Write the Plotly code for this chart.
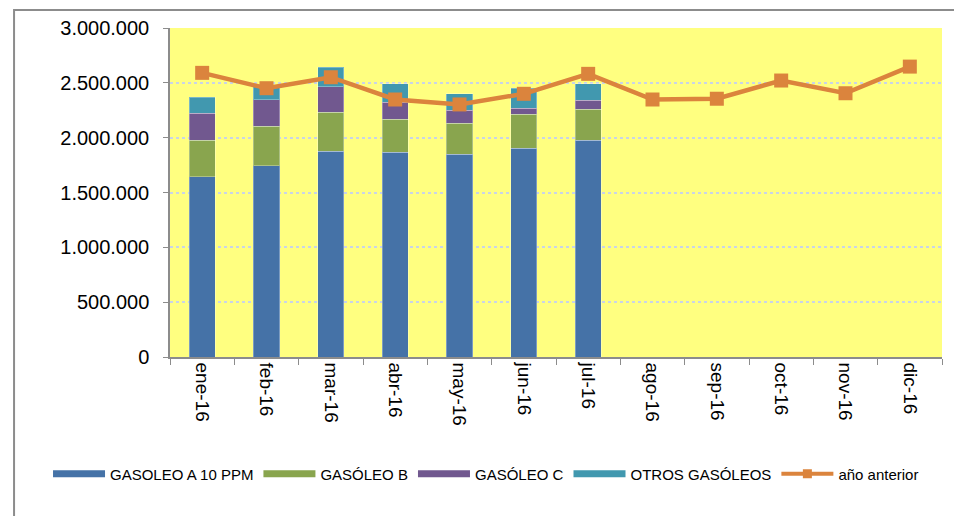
import plotly.graph_objects as go

meses = ["ene-16", "feb-16", "mar-16", "abr-16", "may-16", "jun-16",
         "jul-16", "ago-16", "sep-16", "oct-16", "nov-16", "dic-16"]

gasoleo_a = [1642000, 1742000, 1875000, 1869000, 1851000, 1905000, 1978000]
gasoleo_b = [333000, 361000, 355000, 297000, 282000, 307000, 282000]
gasoleo_c = [249000, 242000, 236000, 158000, 115000, 57000, 82000]
otros = [145000, 130000, 176000, 167000, 152000, 182000, 149000]
anio_anterior = [2591000, 2451000, 2551000, 2348000, 2303000, 2400000,
                 2582000, 2348000, 2355000, 2521000, 2405000, 2648000]

y_ticks = [0, 500000, 1000000, 1500000, 2000000, 2500000, 3000000]
y_tick_text = ["0", "500.000", "1.000.000", "1.500.000", "2.000.000",
               "2.500.000", "3.000.000"]

series = [
    ("GASOLEO A 10 PPM", gasoleo_a, "#4572A7"),
    ("GASÓLEO B", gasoleo_b, "#89A54E"),
    ("GASÓLEO C", gasoleo_c, "#71588F"),
    ("OTROS GASÓLEOS", otros, "#4198AF"),
]
LINE_COLOR = "#DB843D"
FONT = "Liberation Sans, Arial, sans-serif"

fig = go.Figure()

n_bars = len(gasoleo_a)
for name, vals, color in series:
    fig.add_trace(go.Bar(
        x=meses[:n_bars], y=vals, name=name,
        marker=dict(color=color, line=dict(color="rgba(255,255,255,0.3)", width=1)),
        showlegend=False,
    ))

fig.add_trace(go.Scatter(
    x=meses, y=anio_anterior, name="año anterior", mode="lines+markers",
    line=dict(color=LINE_COLOR, width=4.5),
    marker=dict(symbol="square", size=14, color=LINE_COLOR),
    showlegend=False,
))

# legend entries drawn as wide swatches
for name, _, color in series:
    fig.add_trace(go.Scatter(
        x=[None], y=[None], name=name, mode="lines",
        line=dict(color=color, width=7), showlegend=True,
    ))
fig.add_trace(go.Scatter(
    x=[None], y=[None], name="año anterior", mode="lines+markers",
    line=dict(color=LINE_COLOR, width=4),
    marker=dict(symbol="square", size=9, color=LINE_COLOR), showlegend=True,
))

fig.update_layout(
    width=954, height=516,
    margin=dict(l=170, r=12, t=28, b=159),
    barmode="stack", bargap=0.595,
    plot_bgcolor="#FFFF80", paper_bgcolor="white",
    font=dict(family=FONT, color="black"),
    legend=dict(orientation="h", x=-0.158, xanchor="left", y=-0.356,
                yanchor="middle", font=dict(size=15, family=FONT),
                itemwidth=52, tracegroupgap=0, traceorder="normal",
                bgcolor="rgba(0,0,0,0)"),
    shapes=[dict(type="rect", xref="paper", yref="paper",
                 x0=-0.202, x1=1.2, y0=-0.7, y1=1.0547,
                 line=dict(color="#8c8c8c", width=2), layer="above")],
)

fig.update_xaxes(
    type="category", categoryorder="array", categoryarray=meses,
    range=[-0.5, len(meses) - 0.5],
    tickangle=90, tickfont=dict(size=19, family=FONT),
    ticks="outside", ticklen=6, tickcolor="#8c8c8c", tickson="boundaries",
    showline=True, linecolor="#8c8c8c", linewidth=1.5,
    showgrid=False,
)

fig.update_yaxes(
    range=[0, 3000000], tickvals=y_ticks, ticktext=y_tick_text,
    tickfont=dict(size=20, family=FONT),
    ticks="outside", ticklen=5, tickcolor="#8c8c8c", ticklabelstandoff=10,
    showline=True, linecolor="#8c8c8c", linewidth=1.5,
    showgrid=True, gridcolor="#c9d4e6", gridwidth=1.5, griddash="dot",
    zeroline=False,
)

fig.write_html("out.html")
